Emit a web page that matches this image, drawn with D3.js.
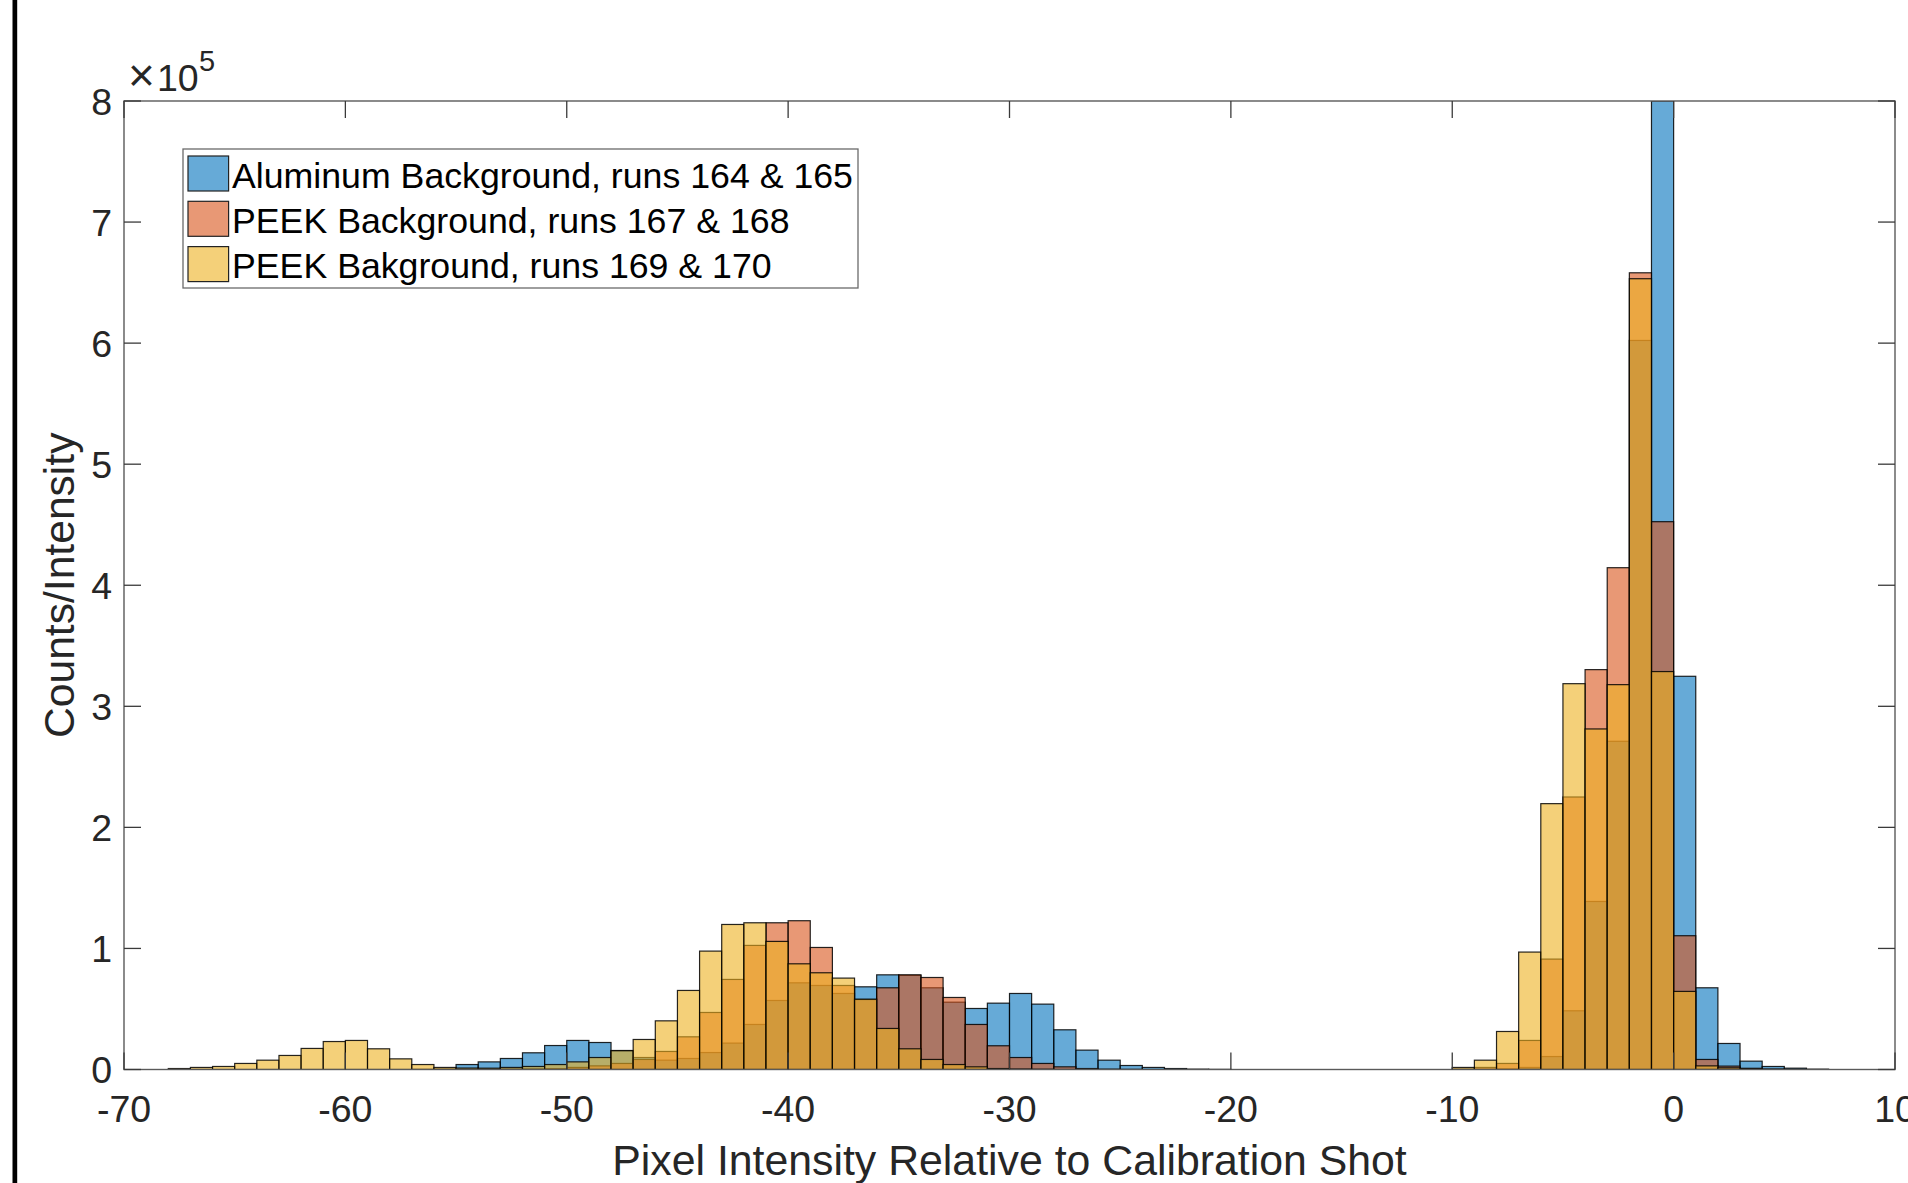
<!DOCTYPE html>
<html>
<head>
<meta charset="utf-8">
<script src="https://cdn.jsdelivr.net/npm/d3@7"></script>
<style>
  body { margin: 0; background: #fff; overflow: hidden; }
  svg { display: block; }
  text { font-family: "Liberation Sans", Arial, Helvetica, sans-serif; fill: #262626; }
</style>
</head>
<body>
<div id="chart"></div>
<script>
// left edge of every bin (bins are one unit wide)
const binEdges = [
  -68, -67, -66, -65, -64, -63, -62, -61, -60, -59,
  -58, -57, -56, -55, -54, -53, -52, -51, -50, -49,
  -48, -47, -46, -45, -44, -43, -42, -41, -40, -39,
  -38, -37, -36, -35, -34, -33, -32, -31, -30, -29,
  -28, -27, -26, -25, -24, -23, -22, -21, -20, -19,
  -18, -17, -16, -15, -14, -13, -12, -11, -10, -9,
  -8, -7, -6, -5, -4, -3, -2, -1, 0, 1,
  2, 3, 4, 5, 6
]

// counts in units of 10^5
const aluminum = [
  0, 0, 0, 0, 0, 0, 0, 0, 0, 0,
  0, 0.001, 0.004, 0.041, 0.063, 0.091, 0.138, 0.198, 0.240, 0.223,
  0.157, 0.099, 0.077, 0.091, 0.140, 0.218, 0.372, 0.570, 0.716, 0.694,
  0.628, 0.683, 0.782, 0.778, 0.675, 0.556, 0.504, 0.548, 0.628, 0.540,
  0.328, 0.160, 0.077, 0.033, 0.017, 0.008, 0.003, 0.001, 0, 0,
  0, 0, 0, 0, 0, 0, 0, 0, 0, 0.001,
  0.004, 0.017, 0.107, 0.485, 1.388, 2.711, 6.022, 8.000, 3.248, 0.675,
  0.215, 0.069, 0.025, 0.011, 0.003
]

const peek167 = [
  0, 0, 0, 0, 0, 0, 0, 0, 0, 0,
  0, 0, 0, 0.001, 0.002, 0.003, 0.004, 0.006, 0.017, 0.030,
  0.050, 0.083, 0.149, 0.270, 0.471, 0.744, 1.025, 1.212, 1.229, 1.008,
  0.694, 0.578, 0.675, 0.782, 0.760, 0.595, 0.372, 0.196, 0.099, 0.050,
  0.022, 0.008, 0.003, 0.001, 0, 0, 0, 0, 0, 0,
  0, 0, 0, 0, 0, 0, 0, 0, 0.003, 0.017,
  0.050, 0.240, 0.912, 2.251, 3.303, 4.145, 6.581, 4.525, 1.105, 0.083,
  0.028, 0.010, 0.003, 0.001, 0
]

const peek169 = [
  0.008, 0.017, 0.025, 0.050, 0.077, 0.116, 0.174, 0.231, 0.240, 0.171,
  0.088, 0.041, 0.017, 0.012, 0.011, 0.017, 0.025, 0.041, 0.063, 0.099,
  0.155, 0.248, 0.402, 0.653, 0.978, 1.198, 1.212, 1.058, 0.873, 0.799,
  0.755, 0.581, 0.339, 0.171, 0.083, 0.041, 0.022, 0.008, 0.004, 0.002,
  0, 0, 0, 0, 0, 0, 0, 0, 0, 0,
  0, 0, 0, 0, 0, 0, 0, 0, 0.017, 0.077,
  0.314, 0.970, 2.196, 3.187, 2.813, 3.179, 6.532, 3.287, 0.645, 0.030,
  0.014, 0.005, 0.002, 0, 0
]

const seriesNames = [
  'Aluminum Background, runs 164 & 165',
  'PEEK Background, runs 167 & 168',
  'PEEK Bakground, runs 169 & 170'
]
const seriesColors = ['#0072BD', '#D95319', '#EDB120']

const xTicks = [-70, -60, -50, -40, -30, -20, -10, 0, 10]
const yTicks = [0, 1, 2, 3, 4, 5, 6, 7, 8]

const fullWidth = 1908
const fullHeight = 1183
const margin = { top: 101, right: 13, bottom: 113.5, left: 124 }
const width = fullWidth - margin.left - margin.right
const height = fullHeight - margin.top - margin.bottom
const faceAlpha = 0.6
const tickLen = 17

const root = d3.select('#chart')
  .append('svg')
  .attr('width', fullWidth)
  .attr('height', fullHeight)

// thick black rule down the left edge of the figure
root.append('rect')
  .attr('x', 12.5).attr('y', 0)
  .attr('width', 4.7).attr('height', fullHeight)
  .attr('fill', '#000')

const svg = root.append('g')
  .attr('transform', 'translate(' + margin.left + ',' + margin.top + ')')

const x = d3.scaleLinear().domain([-70, 10]).range([0, width])
const y = d3.scaleLinear().domain([0, 8]).range([height, 0])

svg.append('clipPath').attr('id', 'plotclip')
  .append('rect').attr('width', width).attr('height', height)

const bars = svg.append('g').attr('clip-path', 'url(#plotclip)')

const allSeries = [aluminum, peek167, peek169]
allSeries.forEach(function (values, si) {
  const pts = binEdges
    .map((e, i) => ({ edge: e, v: values[i] }))
    .filter(d => d.v > 0)
  bars.append('g')
    .selectAll('rect')
    .data(pts)
    .enter()
    .append('rect')
    .attr('x', d => x(d.edge))
    .attr('width', d => x(d.edge + 1) - x(d.edge))
    .attr('y', d => y(d.v))
    .attr('height', d => y(0) - y(d.v))
    .attr('fill', seriesColors[si])
    .attr('fill-opacity', faceAlpha)
    .attr('stroke', '#000')
    .attr('stroke-opacity', 0.85)
    .attr('stroke-width', 1.2)
})

// axes box with inward ticks on all four sides
const axisColor = '#5a5a5a'
svg.append('rect')
  .attr('width', width).attr('height', height)
  .attr('fill', 'none')
  .attr('stroke', axisColor)
  .attr('stroke-width', 1.4)

const tickG = svg.append('g').attr('stroke', '#3a3a3a').attr('stroke-width', 1.3)
xTicks.forEach(function (t) {
  tickG.append('line').attr('x1', x(t)).attr('x2', x(t)).attr('y1', height).attr('y2', height - tickLen)
  tickG.append('line').attr('x1', x(t)).attr('x2', x(t)).attr('y1', 0).attr('y2', tickLen)
})
yTicks.forEach(function (t) {
  tickG.append('line').attr('x1', 0).attr('x2', tickLen).attr('y1', y(t)).attr('y2', y(t))
  tickG.append('line').attr('x1', width).attr('x2', width - tickLen).attr('y1', y(t)).attr('y2', y(t))
})

svg.append('g')
  .selectAll('text')
  .data(xTicks)
  .enter()
  .append('text')
  .attr('x', d => x(d))
  .attr('y', height + 52)
  .attr('text-anchor', 'middle')
  .style('font-size', '37.5px')
  .text(d => d)

svg.append('g')
  .selectAll('text')
  .data(yTicks)
  .enter()
  .append('text')
  .attr('x', -12)
  .attr('y', d => y(d))
  .attr('dy', '0.36em')
  .attr('text-anchor', 'end')
  .style('font-size', '37.5px')
  .text(d => d)

// exponent marker
const expo = svg.append('text')
  .attr('x', 128 - margin.left)
  .attr('y', 91 - margin.top)
  .style('font-size', '37.5px')
expo.append('tspan').style('font-size', '46px').style('font-weight', '300').text('\u00d7')
expo.append('tspan').attr('dx', 2).text('10')
svg.append('text')
  .attr('x', 199 - margin.left)
  .attr('y', 71 - margin.top)
  .style('font-size', '29px')
  .text('5')

// axis labels
svg.append('text')
  .attr('x', width / 2)
  .attr('y', 1175 - margin.top)
  .attr('text-anchor', 'middle')
  .style('font-size', '42.8px')
  .text('Pixel Intensity Relative to Calibration Shot')

svg.append('text')
  .attr('transform', 'translate(' + (74 - margin.left) + ',' + (height / 2) + ') rotate(-90)')
  .attr('text-anchor', 'middle')
  .style('font-size', '42.6px')
  .text('Counts/Intensity')

// legend
const legend = root.append('g').attr('transform', 'translate(183,149)')
legend.append('rect')
  .attr('width', 675).attr('height', 139)
  .attr('fill', '#fff')
  .attr('stroke', '#6a6a6a')
  .attr('stroke-width', 1.3)

const rows = legend.selectAll('g.row')
  .data(seriesNames)
  .enter()
  .append('g')
  .attr('class', 'row')
  .attr('transform', (d, i) => 'translate(0,' + (i * 45.3) + ')')

rows.append('rect')
  .attr('x', 5).attr('y', 7)
  .attr('width', 40.6).attr('height', 35)
  .attr('fill', (d, i) => seriesColors[i])
  .attr('fill-opacity', faceAlpha)
  .attr('stroke', '#222')
  .attr('stroke-width', 1.2)

rows.append('text')
  .attr('x', 49)
  .attr('y', 38.7)
  .style('font-size', '35.7px')
  .style('fill', '#000')
  .text(d => d)
</script>
</body>
</html>
